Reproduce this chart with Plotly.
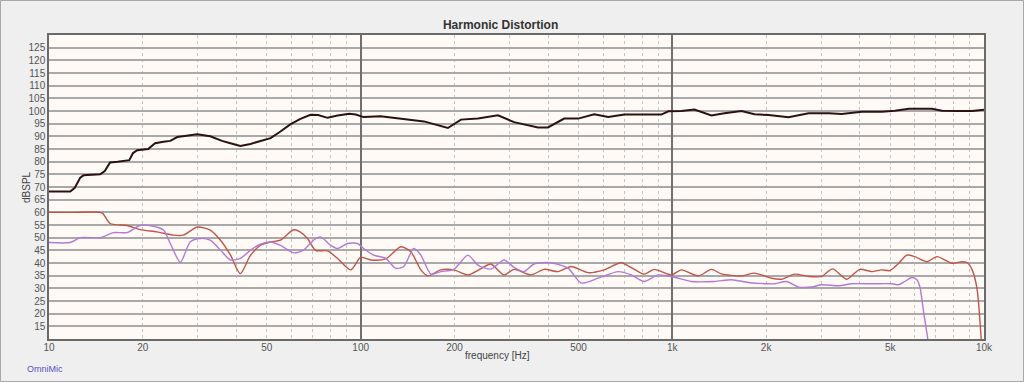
import plotly.graph_objects as go

# ---------------- data ----------------
fund_freq = [10, 11.7, 12.1, 12.6, 12.9, 14.6, 15.1, 15.7, 16.6, 18.1, 18.6, 19.2, 20.8, 21.9,
             23.3, 24.5, 25.8, 27.7, 29.9, 32.9, 35.9, 38.2, 41.1, 44.3, 47.7, 51.4, 55.3, 59.6,
             64.1, 69.0, 73.0, 78.3, 84.3, 92.0, 96.4, 102.2, 115.9, 134.5, 159.5, 190.5, 209.7,
             237.8, 275.7, 310.5, 370.7, 399.1, 449.7, 498.7, 561.4, 622.8, 701.3, 855.6, 922,
             971, 1069, 1177, 1335, 1469, 1667, 1835, 2035, 2360, 2737, 3177, 3493, 4055, 4701,
             5174, 5741, 6808, 7329, 8318, 9149, 10000]
fund_db = [68.2, 68.2, 69.7, 73.7, 74.6, 75, 76.3, 79.7, 80, 80.6, 83.4, 84.5, 85, 87.3,
           87.9, 88.2, 89.7, 90.3, 90.8, 90, 88.2, 87.3, 86.2, 87, 88, 89.3, 91.9, 94.8,
           96.9, 98.5, 98.4, 97.3, 98.2, 98.9, 98.6, 97.6, 97.9, 97, 95.9, 93.3, 96.6,
           97, 98.3, 95.6, 93.5, 93.5, 97, 97, 98.7, 97.6, 98.6, 98.6, 98.6,
           99.9, 100, 100.6, 98.2, 99.1, 100, 98.7, 98.4, 97.5, 99.1, 99.1, 98.8, 99.7, 99.7,
           100.1, 100.9, 100.9, 100.1, 100, 100, 100.5]

h2_freq = [10, 12, 14.6, 14.9, 15.7, 17.8, 19.6, 22.2, 25.1, 27.0, 29.9, 32.9, 35.5, 38.2,
           41.1, 44.3, 47.7, 51.4, 55.3, 60.9, 64.1, 67.6, 71.6, 78.3, 84.3, 92.9, 100, 107.7,
           120.3, 134.5, 144.9, 156.0, 164.3, 180.8, 199.1, 220.8, 243.2, 261.8, 288.3, 310.5,
           352.1, 387.6, 429.8, 473.4, 537.0, 604.4, 685.4, 754.8, 812.4, 874.6, 993, 1069,
           1213, 1335, 1438, 1667, 1835, 2081, 2240, 2467, 2737, 3013, 3268, 3627, 3993, 4365,
           4701, 4990, 5329, 5650, 5994, 6557, 7067, 7893, 8497, 8817, 9149, 9494, 9850]
h2_db = [60, 60, 60, 59.5, 55.6, 54.8, 53.2, 52.3, 51, 51, 54.2, 53, 49, 43.2,
         35.8, 43, 47, 48.3, 49, 53.1, 52.2, 49.6, 45, 44.8, 41.8, 37.3, 42.2, 41.2,
         41.6, 46.4, 44.4, 37.3, 34.9, 37.3, 37.3, 35.3, 37.8, 39.6, 35.3, 37.5,
         35.3, 37.5, 36.6, 38.6, 36.2, 37.3, 40.1, 37.5, 35.6, 37.5, 35.3, 37.3,
         34.9, 37.5, 35.7, 34.9, 36, 34, 33.6, 35.6, 34.7, 34.7, 37.7, 33.6, 37.5, 36.6,
         37.3, 37, 39.9, 43.1, 42.5, 40.5, 42.5, 39.9, 40.5, 40.2, 37.5, 30, 5]

h3_freq = [10, 11.7, 12.6, 14.6, 16.1, 17.8, 19.6, 21.6, 23.3, 24.5, 26.4, 28.4, 30.6, 32.9,
           35.5, 38.2, 41.1, 44.3, 47.7, 51.4, 55.3, 60.9, 65.6, 70.6, 74.3, 80.1, 84.3, 90.8,
           97.8, 102.2, 110.1, 120.3, 129.6, 137.5, 148.0, 156.0, 168.0, 180.8, 199.1, 220.8,
           237.8, 261.8, 288.3, 310.5, 334.3, 359.9, 408.3, 463.5, 509.8, 578.1, 670.3, 738.4,
           812.4, 901.4, 1014, 1151, 1365, 1549, 1755, 2035, 2128, 2326, 2541, 2798, 3013,
           3417, 3765, 4365, 5062, 5329, 5571, 5865, 6090, 6226, 6412, 6700]
h3_db = [48.1, 48.1, 50, 50, 52, 52, 54.8, 54.5, 53, 47.7, 40.3, 48.4, 49.7, 49,
         45.1, 41.2, 41.8, 45.1, 47.4, 48.3, 47, 44, 45.1, 49, 50.3, 47, 45.7, 47.7,
         47.7, 45.7, 43.1, 41.8, 37.9, 38.6, 45.7, 43.1, 35.6, 36.6, 37.5, 43.1,
         39.2, 37.6, 41.2, 38.3, 36.6, 39.6, 40.1, 37.9, 32.1, 34, 36.6, 35.3,
         32.7, 35.3, 34.4, 32.7, 32.7, 33.4, 32.3, 31.8, 31.8, 32.7, 30.5, 30.5, 31.4,
         31, 31.8, 31.8, 31.8, 31.4, 32.7, 34.3, 33.4, 30.6, 20, 5]

x_tick_vals = [v * m for m in (10, 100, 1000) for v in range(1, 10)] + [10000]
x_tick_labels = {10: "10", 20: "20", 50: "50", 100: "100", 200: "200", 500: "500",
                 1000: "1k", 2000: "2k", 5000: "5k", 10000: "10k"}
y_tick_vals = list(range(15, 130, 5))

# ---------------- figure ----------------
fig = go.Figure()
fig.add_trace(go.Scatter(x=h2_freq, y=h2_db, mode="lines", name="H2",
                         line=dict(color="#c0564a", width=1.4, shape="spline", smoothing=0.7)))
fig.add_trace(go.Scatter(x=h3_freq, y=h3_db, mode="lines", name="H3",
                         line=dict(color="#b27ad6", width=1.4, shape="spline", smoothing=0.7)))
fig.add_trace(go.Scatter(x=fund_freq, y=fund_db, mode="lines", name="Fundamental",
                         line=dict(color="#2a1212", width=2)))

W_PLOT, H_PLOT = 935, 304

fig.update_layout(
    width=1024, height=382,
    margin=dict(l=49, r=40, t=35, b=43),
    paper_bgcolor="#efefef",
    plot_bgcolor="#fffaf5",
    showlegend=False,
    font=dict(family="Liberation Sans, Arial, sans-serif", size=10, color="#444444"),
    title=dict(text="<b>Harmonic Distortion</b>", x=0.483, xref="paper", xanchor="center",
               y=1 - 25 / 382, yref="container", yanchor="middle",
               font=dict(size=12, color="#333333")),
    xaxis=dict(type="log", range=[1, 4], automargin=False,
               tickvals=x_tick_vals,
               ticktext=[x_tick_labels.get(v, "") for v in x_tick_vals],
               showgrid=True, gridcolor="#c4c4c4", griddash="dot", gridwidth=1,
               ticks="", ticklabelstandoff=-2,
               showline=True, linecolor="#6a6a6a", linewidth=1.5, mirror=True,
               zeroline=False,
               tickfont=dict(size=10, color="#555555")),
    xaxis2=dict(type="log", range=[1, 4], overlaying="x", tickvals=[100, 1000],
                showticklabels=False, showgrid=True, gridcolor="#707070", gridwidth=1.5,
                ticks="", showline=False, zeroline=False, matches="x"),
    yaxis=dict(range=[10, 130], tickvals=y_tick_vals, automargin=False,
               showgrid=True, gridcolor="#a9a9a9", gridwidth=1.5,
               ticks="", showline=True, linecolor="#6a6a6a", linewidth=1.5, mirror=True,
               zeroline=False,
               tickfont=dict(size=10, color="#555555")),
)

# invisible trace to activate the second x-axis (decade lines)
fig.add_trace(go.Scatter(x=[10, 10000], y=[None, None], xaxis="x2", mode="lines",
                         hoverinfo="skip", showlegend=False))

# axis titles
fig.add_annotation(text="frequency [Hz]", xref="paper", yref="paper",
                   x=(497 - 49) / W_PLOT, y=-(355 - 339) / H_PLOT,
                   xanchor="center", yanchor="middle", showarrow=False,
                   font=dict(size=10, color="#444444"))
fig.add_annotation(text="dBSPL", xref="paper", yref="paper", textangle=-90,
                   x=(26 - 49) / W_PLOT, y=0.5,
                   xanchor="center", yanchor="middle", showarrow=False,
                   font=dict(size=10, color="#444444"))

fig.add_annotation(text="OmniMic", xref="paper", yref="paper",
                   x=-24 / W_PLOT, y=-30 / H_PLOT, xanchor="left", yanchor="middle",
                   showarrow=False, font=dict(size=9, color="#5550cc"))

# outer window border
fig.add_shape(type="rect", xref="paper", yref="paper",
              x0=-48.5 / W_PLOT, x1=(1024 - 49 - 0.5) / W_PLOT,
              y0=-42.5 / H_PLOT, y1=(382 - 43 - 0.5) / H_PLOT,
              line=dict(color="#a8a8a8", width=1), fillcolor="rgba(0,0,0,0)", layer="below")

fig.write_html("out.html", config={"displayModeBar": False},
               post_script="document.body.style.margin='0';document.body.style.overflow='hidden';")
